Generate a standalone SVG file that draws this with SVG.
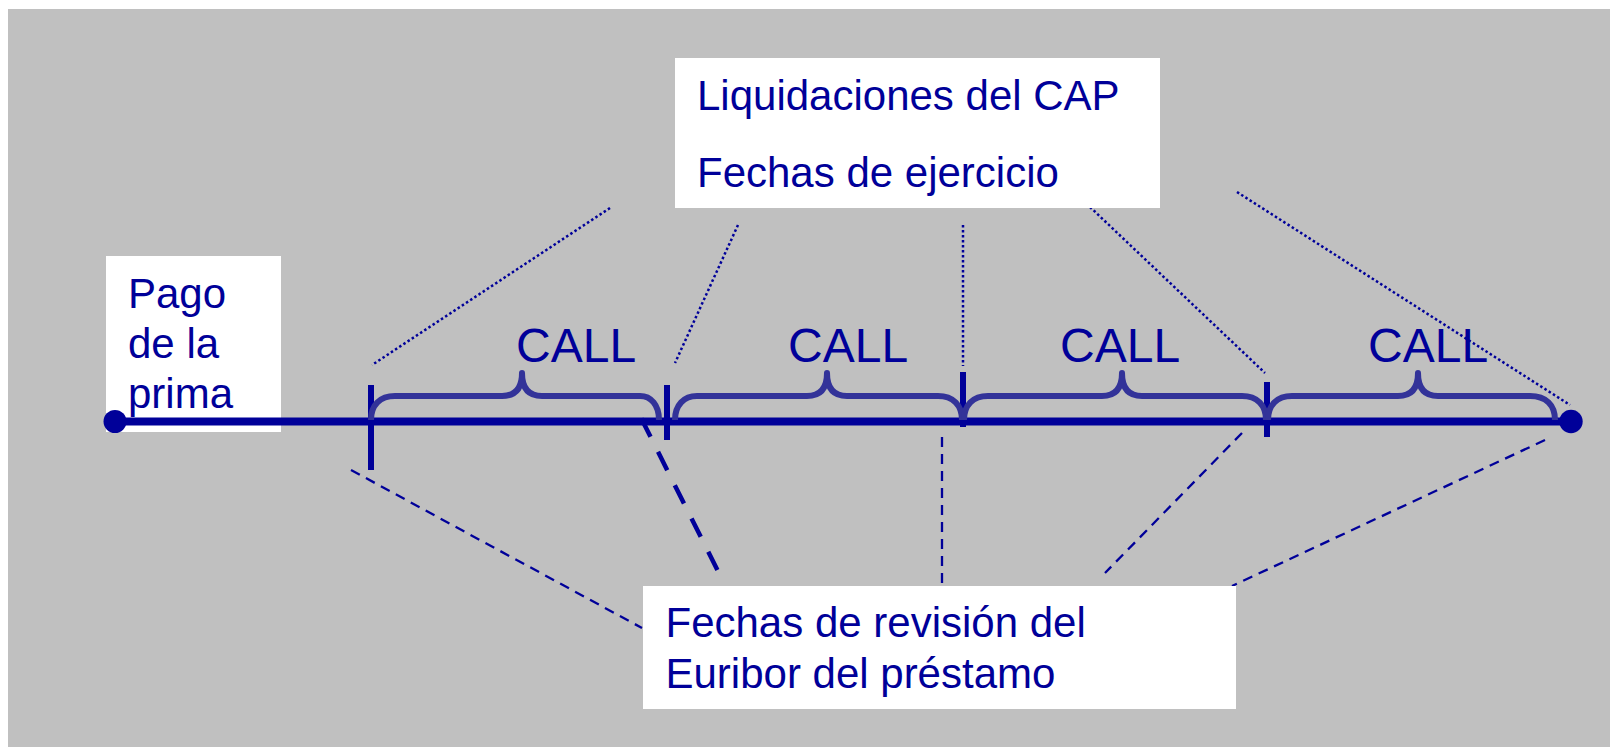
<svg xmlns="http://www.w3.org/2000/svg" width="1610" height="747" viewBox="0 0 1610 747">
<style>
.txt{font-family:"Liberation Sans",Arial,sans-serif;font-size:42px;fill:#000099}
.call{font-family:"Liberation Sans",Arial,sans-serif;font-size:48px;fill:#000099}
.dot{fill:none;stroke:#000099;stroke-width:2.5;stroke-dasharray:2.5 2.5}
.dash{fill:none;stroke:#000099;stroke-width:2.3;stroke-dasharray:10 7}
.tick{stroke:#000099;stroke-width:6}
.brace{fill:none;stroke:#333399;stroke-width:6;stroke-linejoin:round}
</style>
<rect x="0" y="0" width="1610" height="747" fill="#ffffff"/>
<rect x="8" y="9" width="1602" height="738" fill="#C0C0C0"/>
<g id="connectors">
<line class="dot" x1="610" y1="208" x2="372" y2="365"/>
<line class="dot" x1="738" y1="225" x2="675" y2="363"/>
<line class="dot" x1="963" y1="225" x2="963" y2="366"/>
<line class="dot" x1="1090" y1="207" x2="1265" y2="373"/>
<line class="dot" x1="1237" y1="192" x2="1570" y2="405"/>
<line class="dash" x1="351" y1="470" x2="642" y2="628"/>
<line x1="641.3" y1="418.5" x2="717.4" y2="570" fill="none" stroke="#000099" stroke-width="4.5" stroke-dasharray="20.5 16.8"/>
<line class="dash" x1="942" y1="437" x2="942" y2="587"/>
<line class="dash" x1="1242" y1="433" x2="1105" y2="573"/>
<line class="dash" x1="1545" y1="440" x2="1232" y2="586"/>
</g>
<g id="pago">
<rect x="106" y="256" width="175" height="176" fill="#ffffff"/>
<text class="txt" x="128" y="308">Pago</text>
<text class="txt" x="128" y="358">de la</text>
<text class="txt" x="128" y="408">prima</text>
</g>
<g id="timeline">
<line x1="114" y1="421.5" x2="1571" y2="421.5" stroke="#000099" stroke-width="8"/>
<line class="tick" x1="371" y1="385" x2="371" y2="470"/>
<line class="tick" x1="667" y1="385" x2="667" y2="440"/>
<line class="tick" x1="963" y1="372" x2="963" y2="427"/>
<line class="tick" x1="1267" y1="382" x2="1267" y2="437"/>
</g>
<g id="braces">
<path class="brace" d="M371,420 C371,405 380,396 395,396 H502 C514,396 522,390 522,373 C522,390 530,396 542,396 H640 C651,396 659,405 659,420"/>
<path class="brace" d="M675,420 C675,405 684,396 697,396 H807 C819,396 827,390 827,373 C827,390 835,396 847,396 H938 C953,396 962,405 962,420"/>
<path class="brace" d="M964,420 C964,405 973,396 988,396 H1102 C1114,396 1122,390 1122,373 C1122,390 1130,396 1142,396 H1242 C1257,396 1266,405 1266,420"/>
<path class="brace" d="M1268,420 C1268,405 1277,396 1292,396 H1398 C1410,396 1418,390 1418,373 C1418,390 1426,396 1438,396 H1530 C1546,396 1555,405 1555,420"/>
</g>
<g id="dots">
<circle cx="115" cy="421.5" r="11.5" fill="#000099"/>
<circle cx="1571" cy="421.5" r="11.7" fill="#000099"/>
</g>
<g id="calls">
<text class="call" x="516" y="362">CALL</text>
<text class="call" x="788" y="362">CALL</text>
<text class="call" x="1060" y="362">CALL</text>
<text class="call" x="1368" y="362">CALL</text>
</g>
<g id="top-box">
<rect x="675" y="58" width="485" height="150" fill="#ffffff"/>
<text class="txt" x="697" y="110">Liquidaciones del CAP</text>
<text class="txt" x="697" y="187">Fechas de ejercicio</text>
</g>
<g id="bottom-box">
<rect x="643" y="586" width="593" height="123" fill="#ffffff"/>
<text class="txt" x="665.5" y="637">Fechas de revisión del</text>
<text class="txt" x="665.5" y="688">Euribor del préstamo</text>
</g>
</svg>
